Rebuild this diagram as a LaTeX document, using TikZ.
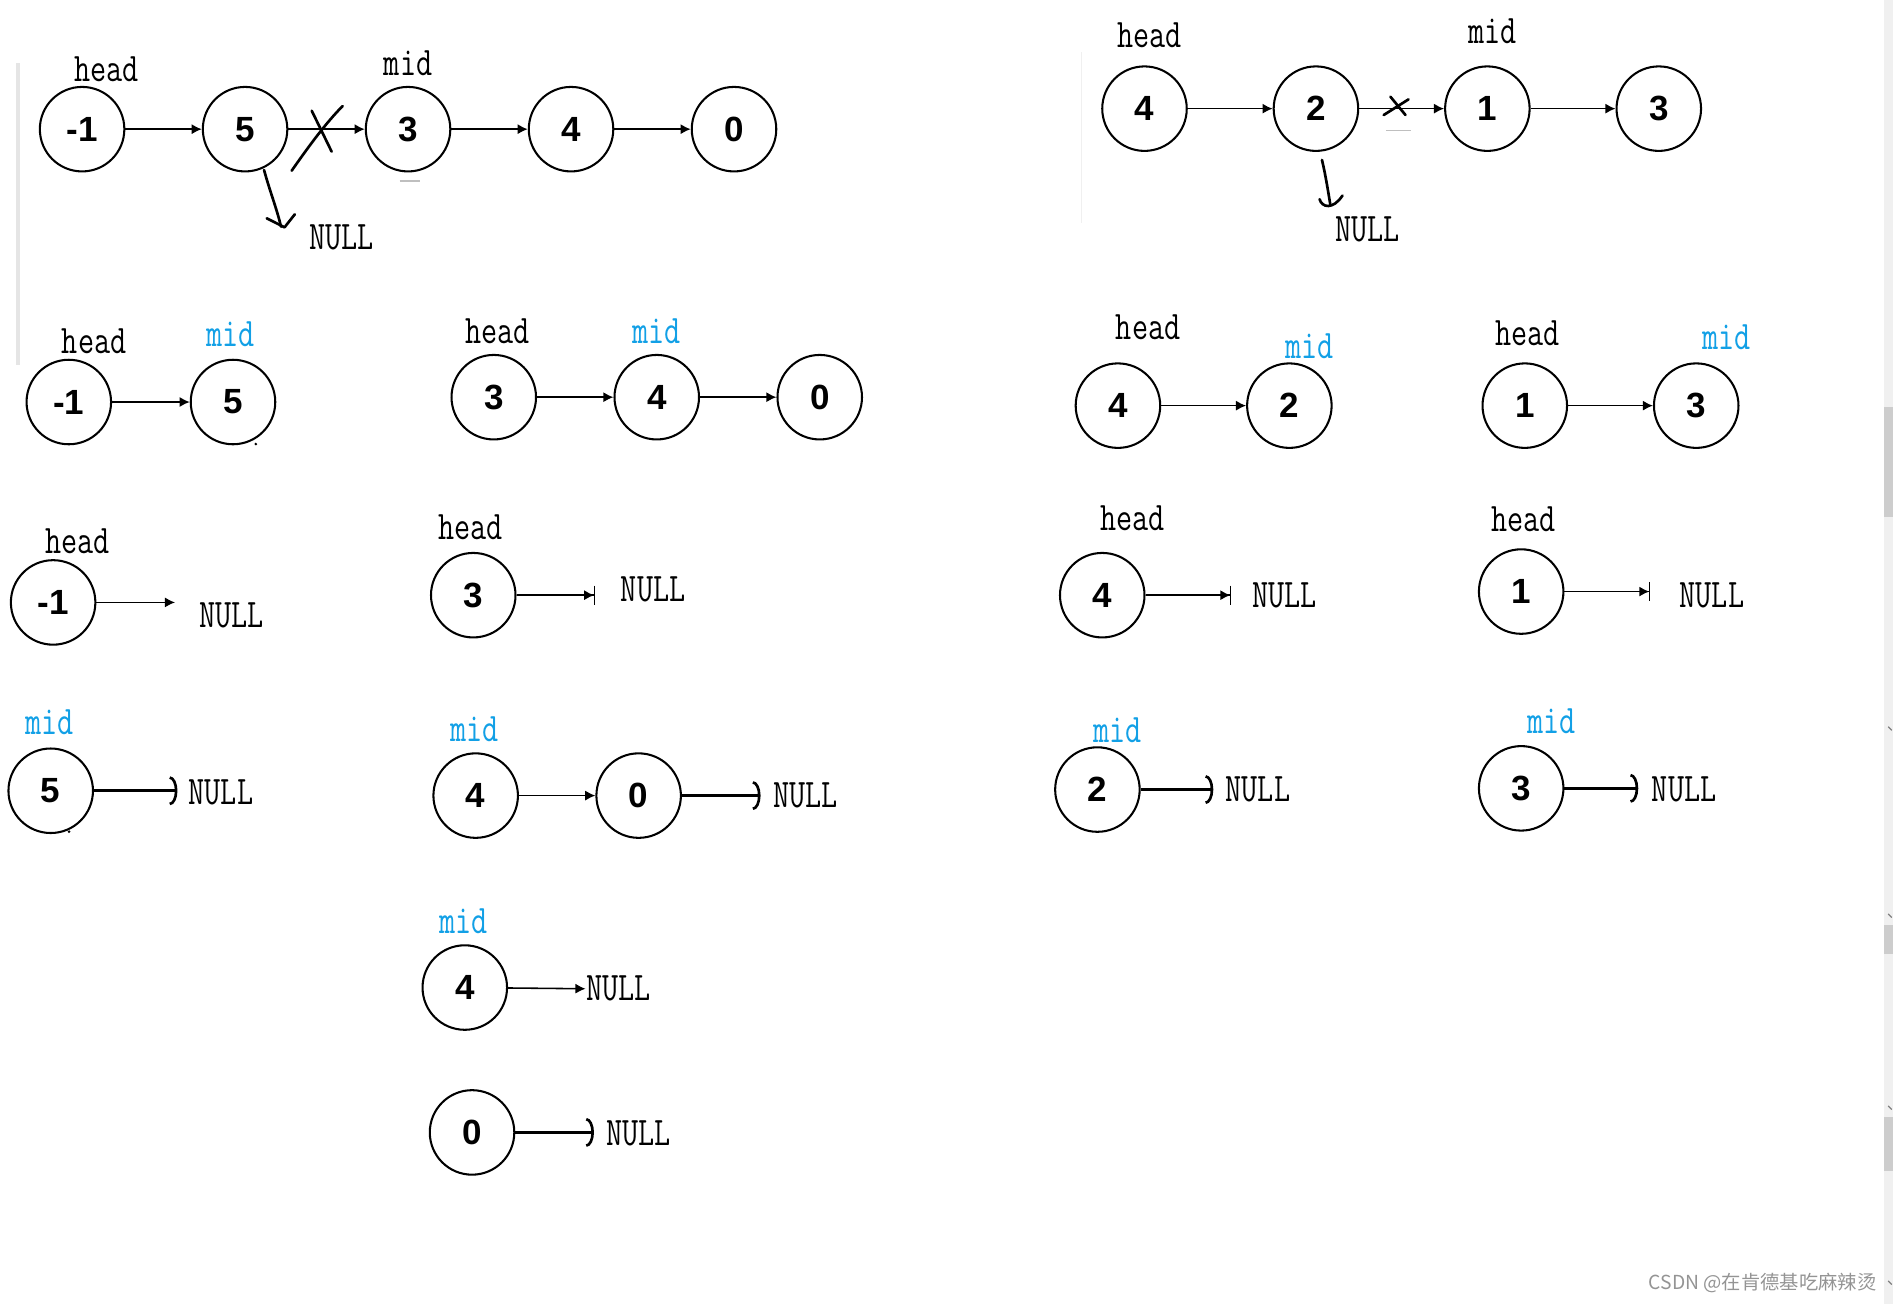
\documentclass[tikz,border=0pt]{standalone}
\usepackage{fontspec}
\usepackage{tikz}
\usetikzlibrary{arrows.meta}
\newfontfamily\numfont{Liberation Sans}
\newfontfamily\lblfont[FakeStretch=0.77]{Latin Modern Mono}
\newfontfamily\cjkfont{Noto Sans CJK SC}
\definecolor{midblue}{RGB}{18,160,230}
\definecolor{barbg}{RGB}{240,240,240}
\definecolor{barthumb}{RGB}{205,205,205}

\begin{document}
\begin{tikzpicture}[
    x=0.5pt, y=-0.5pt,
    cell/.style={circle, draw, line width=0.85pt, minimum size=35pt, inner sep=0pt,
                 font=\numfont\fontsize{14.5}{15}\selectfont\bfseries},
    lbl/.style={font=\lblfont\fontsize{16.8}{17}\selectfont, inner sep=0pt},
    midlbl/.style={lbl, text=midblue},
    ptr/.style={-{Latex[length=4.2pt, width=4.2pt]}, line width=0.65pt},
    cut/.style={-{Latex[length=4.2pt, width=4.2pt, sep=0pt] Bar[width=8pt, line width=0.4pt]},
                line width=0.65pt},
    term/.style={-{Arc Barb[length=3.2pt, width=12pt]}, line width=1.1pt},
    hand/.style={line width=1.1pt, line cap=round, line join=round},
]
\useasboundingbox (0,0) rectangle (1568,1080);

% --- page edges: faint margin lines and the scroll bar ------------------------
\draw[black!10, line width=1.5pt] (15,52) -- (15,302);
\draw[black!6, line width=0.5pt] (896,43) -- (896,185);
\fill[barbg] (1560.5,0) rectangle (1568,1080);
\fill[barthumb] (1560.5,337) rectangle (1568,428);
\fill[barthumb] (1560.5,766) rectangle (1568,790);
\fill[barthumb] (1560.5,925) rectangle (1568,970);
\foreach \y in {604,759,918,1063} \draw[gray, line width=0.5pt] (1564,\y-2) -- (1567,\y+1);

% --- top left: -1 5 3 4 0, cut after 5 ---------------------------------------
\node[cell] (a1) at (68,107)  {-1};
\node[cell] (a2) at (203,107) {5};
\node[cell] (a3) at (338,107) {3};
\node[cell] (a4) at (473,107) {4};
\node[cell] (a5) at (608,107) {0};
\foreach \s/\t in {a1/a2, a2/a3, a3/a4, a4/a5} \draw[ptr] (\s) -- (\t);
\node[lbl] (ahead) at (88,57)  {head};
\node[lbl] (amid)  at (338,52) {mid};
\node[lbl] (anull) at (283,197) {NULL};
\draw[hand] (241.6,141.4) .. controls (258,118) and (270,102) .. (283.8,87.8);
\draw[hand] (258.2,91.7) -- (274.7,125.6);
\draw[hand] (218.7,140.8) .. controls (224,160) and (229,172) .. (232.8,187.8);
\draw[hand] (220.9,180.8) -- (235.7,188.3) -- (244.2,177.5);
\draw[gray!50, line width=0.5pt] (331,150) -- (348,150);

% --- top right: 4 2 1 3, cut after 2 -----------------------------------------
\node[cell] (b1) at (948,90)  {4};
\node[cell] (b2) at (1090,90) {2};
\node[cell] (b3) at (1232,90) {1};
\node[cell] (b4) at (1374,90) {3};
\foreach \s/\t in {b1/b2, b2/b3, b3/b4} \draw[ptr] (\s) -- (\t);
\node[lbl] (bhead) at (952,29)  {head};
\node[lbl] (bmid)  at (1236,26) {mid};
\node[lbl] (bnull) at (1133,190) {NULL};
\draw[hand] (1151.7,80.1) -- (1164.2,95.3);
\draw[hand] (1146.1,95.3) -- (1166.7,82.3);
\draw[gray!50, line width=0.5pt] (1148,108.2) -- (1169,108.2);
\draw[hand] (1095,132.5) .. controls (1098,145) and (1100,158) .. (1102,170);
\draw[hand] (1093,165) .. controls (1095,172) and (1104,174) .. (1112,162);

% --- second row: the two halves of each list ---------------------------------
\node[cell] (c1) at (57,333)  {-1};
\node[cell] (c2) at (193,333) {5};
\draw[ptr] (c1) -- (c2);
\node[lbl] (chead) at (78,283) {head};
\node[midlbl] (cmid) at (191,277) {mid};
\fill (211.9,367.8) circle (1.2);

\node[cell] (d1) at (409,329) {3};
\node[cell] (d2) at (544,329) {4};
\node[cell] (d3) at (679,329) {0};
\draw[ptr] (d1) -- (d2);
\draw[ptr] (d2) -- (d3);
\node[lbl] (dhead) at (412,274) {head};
\node[midlbl] (dmid) at (544,274) {mid};

\node[cell] (e1) at (926,336)  {4};
\node[cell] (e2) at (1068,336) {2};
\draw[ptr] (e1) -- (e2);
\node[lbl] (ehead) at (951,271) {head};
\node[midlbl] (emid) at (1085,287) {mid};

\node[cell] (f1) at (1263,336) {1};
\node[cell] (f2) at (1405,336) {3};
\draw[ptr] (f1) -- (f2);
\node[lbl] (fhead) at (1265,276) {head};
\node[midlbl] (fmid) at (1430,279) {mid};

% --- third row: head halves split again --------------------------------------
\node[cell] (g1) at (44,499) {-1};
\coordinate (gend) at (145,499);
\draw[ptr] (g1) -- (gend);
\node[lbl] (ghead) at (64,448) {head};
\node[lbl] (gnull) at (192,510) {NULL};

\node[cell] (h1) at (392,493) {3};
\coordinate (hend) at (493,493);
\draw[cut] (h1) -- (hend);
\node[lbl] (hhead) at (390,437) {head};
\node[lbl] (hnull) at (541,488) {NULL};

\node[cell] (i1) at (913,493) {4};
\coordinate (iend) at (1020,493);
\draw[cut] (i1) -- (iend);
\node[lbl] (ihead) at (938,429) {head};
\node[lbl] (inull) at (1064,493) {NULL};

\node[cell] (j1) at (1260,490) {1};
\coordinate (jend) at (1367,490);
\draw[cut] (j1) -- (jend);
\node[lbl] (jhead) at (1262,430) {head};
\node[lbl] (jnull) at (1418,493) {NULL};

% --- fourth row: mid halves --------------------------------------------------
\node[cell] (k1) at (42,655) {5};
\coordinate (kend) at (147,655);
\draw[term] (k1) -- (kend);
\node[midlbl] (kmid) at (41,598) {mid};
\node[lbl] (knull) at (183,656) {NULL};
\fill (57.2,688.9) circle (1.2);

\node[cell] (l1) at (394,659) {4};
\node[cell] (l2) at (529,659) {0};
\coordinate (lend) at (630,659);
\draw[ptr] (l1) -- (l2);
\draw[term] (l2) -- (lend);
\node[midlbl] (lmid) at (393,604) {mid};
\node[lbl] (lnull) at (667,659) {NULL};

\node[cell] (m1) at (909,654) {2};
\coordinate (mend) at (1005,654);
\draw[term] (m1) -- (mend);
\node[midlbl] (mmid) at (926,605) {mid};
\node[lbl] (mnull) at (1042,654) {NULL};

\node[cell] (n1) at (1260,653) {3};
\coordinate (nend) at (1357,653);
\draw[term] (n1) -- (nend);
\node[midlbl] (nmid) at (1285,597) {mid};
\node[lbl] (nnull) at (1395,654) {NULL};

% --- last rows: 4 and 0 on their own -----------------------------------------
\node[cell] (o1) at (385,818) {4};
\node[lbl, anchor=west] (onull) at (485,819) {NULL};
\draw[ptr] (o1) -- (onull.west);
\node[midlbl] (omid) at (384,763) {mid};

\node[cell] (p1) at (391,938) {0};
\coordinate (pend) at (492,938);
\draw[term] (p1) -- (pend);
\node[lbl] (pnull) at (529,939) {NULL};

\node[text=black!42, font=\cjkfont\fontsize{8}{9}\selectfont, inner sep=0pt] (mark)
    at (1460,1063) {CSDN @在肯德基吃麻辣烫};

\end{tikzpicture}
\end{document}
